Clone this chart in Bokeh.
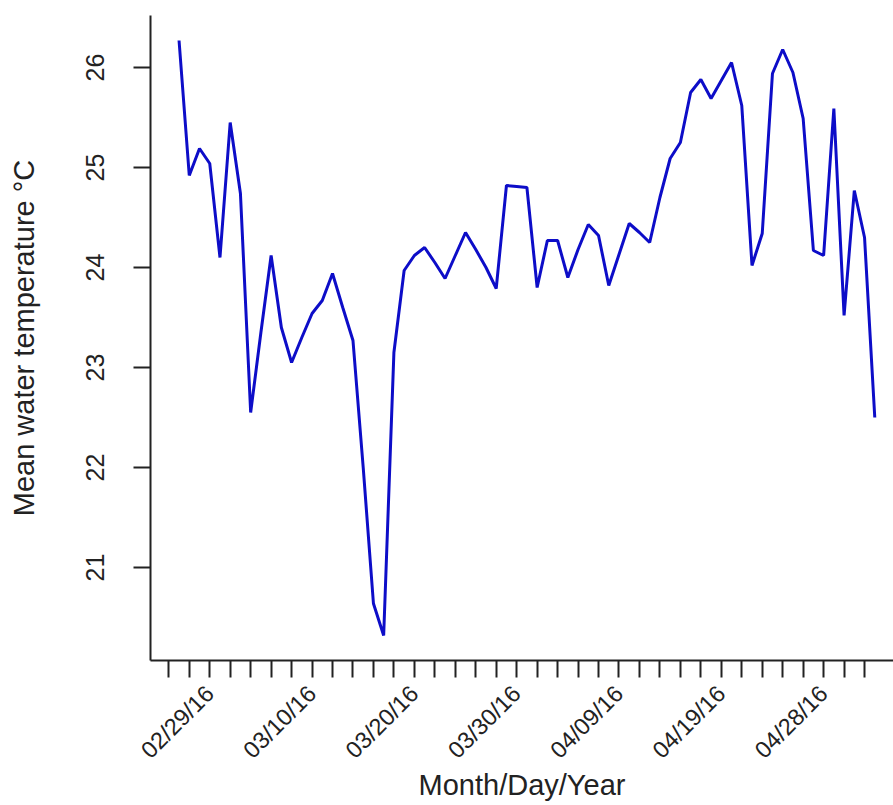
import math
from bokeh.plotting import figure
from bokeh.models import Range1d, FixedTicker, ColumnDataSource
from bokeh.embed import file_html
from bokeh.resources import INLINE

# ---- data ----
day_index = list(range(1, 70))
mean_temp = [
    26.27, 24.92, 25.19, 25.04, 24.10, 25.45, 24.74, 22.55, 23.35, 24.12,
    23.40, 23.05, 23.30, 23.54, 23.67, 23.94, 23.60, 23.27, 22.00, 20.64,
    20.32, 23.15, 23.97, 24.12, 24.20, 24.05, 23.89, 24.12, 24.35, 24.18,
    24.00, 23.79, 24.82, 24.81, 24.80, 23.80, 24.27, 24.27, 23.90, 24.18,
    24.43, 24.32, 23.82, 24.13, 24.44, 24.35, 24.25, 24.70, 25.09, 25.25,
    25.75, 25.88, 25.69, 25.87, 26.05, 25.62, 24.02, 24.34, 25.94, 26.18,
    25.95, 25.49, 24.17, 24.12, 25.59, 23.52, 24.77, 24.30, 22.50,
]
x_ticks = list(range(0, 69, 2))
x_label_pos = [4, 14, 24, 34, 44, 54, 64]
x_label_txt = ["02/29/16", "03/10/16", "03/20/16", "03/30/16",
               "04/09/16", "04/19/16", "04/28/16"]
y_ticks = [21, 22, 23, 24, 25, 26]

src = ColumnDataSource(dict(x=day_index, y=mean_temp))

FONT = "Liberation Sans"

p = figure(frame_width=743, frame_height=645, output_backend="svg",
           toolbar_location=None,
           x_range=Range1d(-1.79, 70.83), y_range=Range1d(20.07, 26.52),
           min_border_left=150, min_border_right=0, min_border_top=15,
           min_border_bottom=0)
p.outline_line_color = None
p.xgrid.visible = False
p.ygrid.visible = False
p.background_fill_color = "white"
p.border_fill_color = "white"

p.line("x", "y", source=src, line_color="#0d0dc8", line_width=3)

overrides = {t: "" for t in x_ticks}
for pos, txt in zip(x_label_pos, x_label_txt):
    overrides[pos] = txt

xa = p.xaxis[0]
xa.ticker = FixedTicker(ticks=x_ticks)
xa.major_label_overrides = overrides
xa.major_label_orientation = math.pi / 4
xa.axis_label = "Month/Day/Year"

ya = p.yaxis[0]
ya.ticker = FixedTicker(ticks=y_ticks)
ya.major_label_orientation = "vertical"
ya.axis_label = "Mean water temperature °C"

for ax in (xa, ya):
    ax.axis_line_color = "#222222"
    ax.axis_line_width = 2
    ax.major_tick_line_color = "#222222"
    ax.major_tick_line_width = 2
    ax.major_tick_out = 17
    ax.major_tick_in = 0
    ax.minor_tick_line_color = None
    ax.major_label_text_font = FONT
    ax.major_label_text_color = "#222222"
    ax.axis_label_text_font = FONT
    ax.axis_label_text_font_size = "29px"
    ax.axis_label_text_font_style = "normal"
    ax.axis_label_text_color = "#222222"

xa.major_label_text_font_size = "23.5px"
ya.major_label_text_font_size = "25px"
xa.major_label_standoff = 12
xa.axis_label_standoff = -7
ya.major_label_standoff = 30
ya.axis_label_standoff = 43

open("out.html", "w").write(file_html(p, INLINE))
